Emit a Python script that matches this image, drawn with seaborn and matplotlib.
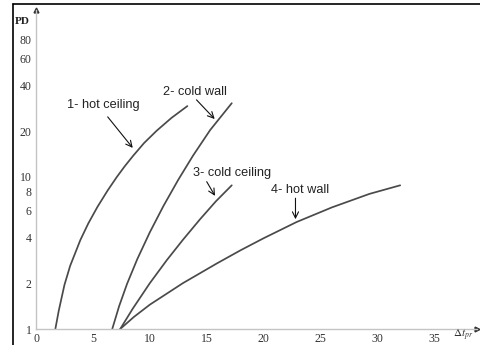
import pandas as pd
import matplotlib.pyplot as plt
import matplotlib.lines as mlines
import seaborn as sns

# curves (x = delta t, y = PD)
hot_ceiling_x = [1.7, 2.0, 2.5, 3.0, 3.9, 4.6, 5.4, 6.3, 7.1, 7.8, 8.55, 9.5, 10.6, 11.9, 13.3]
hot_ceiling_y = [1.0, 1.32, 1.95, 2.6, 3.85, 4.95, 6.35, 8.15, 9.98, 11.75, 13.8, 16.7, 20.1, 24.4, 29.2]

cold_wall_x = [6.7, 7.3, 8.0, 8.9, 10.0, 11.2, 12.5, 13.8, 15.3, 17.2]
cold_wall_y = [1.0, 1.41, 1.98, 2.88, 4.32, 6.44, 9.57, 13.8, 20.3, 30.5]

cold_ceiling_x = [7.4, 8.5, 10.0, 11.5, 12.9, 14.4, 15.8, 17.2]
cold_ceiling_y = [1.0, 1.36, 2.0, 2.84, 3.85, 5.25, 6.9, 8.8]

hot_wall_x = [7.4, 8.6, 10.0, 12.9, 15.9, 18.0, 20.0, 22.9, 26.0, 29.3, 32.0]
hot_wall_y = [1.0, 1.2, 1.445, 2.0, 2.7, 3.3, 3.95, 5.05, 6.3, 7.73, 8.8]

curve_names = ["1- hot ceiling", "2- cold wall", "3- cold ceiling", "4- hot wall"]

# label text position, arrow tail, arrow tip (data coords)
label_xy = [(5.9, 29.8), (14.0, 36.3), (17.2, 10.6), (23.2, 8.2)]
arrow_tail = [(6.3, 24.8), (14.1, 32.1), (15.0, 9.3), (22.8, 7.24)]
arrow_tip = [(8.5, 15.5), (15.7, 24.0), (15.73, 7.5), (22.8, 5.27)]

x_ticks = [0, 5, 10, 15, 20, 25, 30, 35]
y_ticks = [1, 2, 4, 6, 8, 10, 20, 30, 40, 60, 80]
y_tick_labels = ["1", "2", "4", "6", "8", "10", "20", "", "40", "60", "80"]

frames = []
for name, xs, ys in zip(curve_names,
                        [hot_ceiling_x, cold_wall_x, cold_ceiling_x, hot_wall_x],
                        [hot_ceiling_y, cold_wall_y, cold_ceiling_y, hot_wall_y]):
    frames.append(pd.DataFrame({"curve": name, "dt": xs, "pd": ys}))
df = pd.concat(frames, ignore_index=True)

sns.set_style("white")
plt.rcParams["mathtext.fontset"] = "stix"

fig = plt.figure(figsize=(4.81, 3.45), dpi=100)
ax = fig.add_axes([36 / 481, 16 / 345, 441 / 481, 319 / 345])

sns.lineplot(data=df, x="dt", y="pd", units="curve", estimator=None, sort=False,
             color="#4a4a4a", linewidth=1.25, ax=ax)

ax.set_yscale("log")
ax.set_xlim(0, 38.75)
ax.set_ylim(1, 125)
ax.minorticks_off()
ax.set_xticks(x_ticks)
ax.set_xticklabels([str(t) for t in x_ticks])
ax.set_yticks(y_ticks)
ax.set_yticklabels(y_tick_labels)
ax.set_xlabel("")
ax.set_ylabel("")

for side in ["top", "right"]:
    ax.spines[side].set_visible(False)
for side in ["left", "bottom"]:
    ax.spines[side].set_color("#c4c4c4")
    ax.spines[side].set_linewidth(1.0)

ax.tick_params(direction="in", length=3, width=0.8, color="#b0b0b0",
               labelsize=8.5, labelcolor="#333333", pad=3)
for lab in ax.get_xticklabels() + ax.get_yticklabels():
    lab.set_fontfamily("Liberation Serif")

# arrow heads on the axes
ax.plot(1, 0, ">", color="#333333", markersize=3.5, transform=ax.transAxes, clip_on=False)
ax.plot(0, 1, "^", color="#333333", markersize=3.5, transform=ax.transAxes, clip_on=False)

for name, txy, tail, tip in zip(curve_names, label_xy, arrow_tail, arrow_tip):
    ax.text(txy[0], txy[1], name, ha="center", va="center", fontsize=9.2,
            family="Liberation Sans", color="#222222")
    ax.annotate("", xy=tip, xytext=tail,
                arrowprops=dict(arrowstyle="->", color="#111111", lw=0.8,
                                mutation_scale=11, shrinkA=0, shrinkB=0))

fig.text(22.5 / 481, 1 - 21.5 / 345, "PD", ha="center", va="center",
         fontsize=8, family="Liberation Serif", fontweight="bold", color="#222222")
fig.text(463 / 481, 1 - 335.5 / 345, r"$\Delta t_{pr}$", ha="center", va="center",
         fontsize=8, color="#333333")

# black frame lines at top and left
fig.add_artist(mlines.Line2D([13 / 481, 1], [1 - 4 / 345, 1 - 4 / 345],
                             transform=fig.transFigure, color="black", linewidth=1.2))
fig.add_artist(mlines.Line2D([13 / 481, 13 / 481], [0, 1 - 4 / 345],
                             transform=fig.transFigure, color="black", linewidth=1.2))

fig.savefig("out.png", dpi=100)
